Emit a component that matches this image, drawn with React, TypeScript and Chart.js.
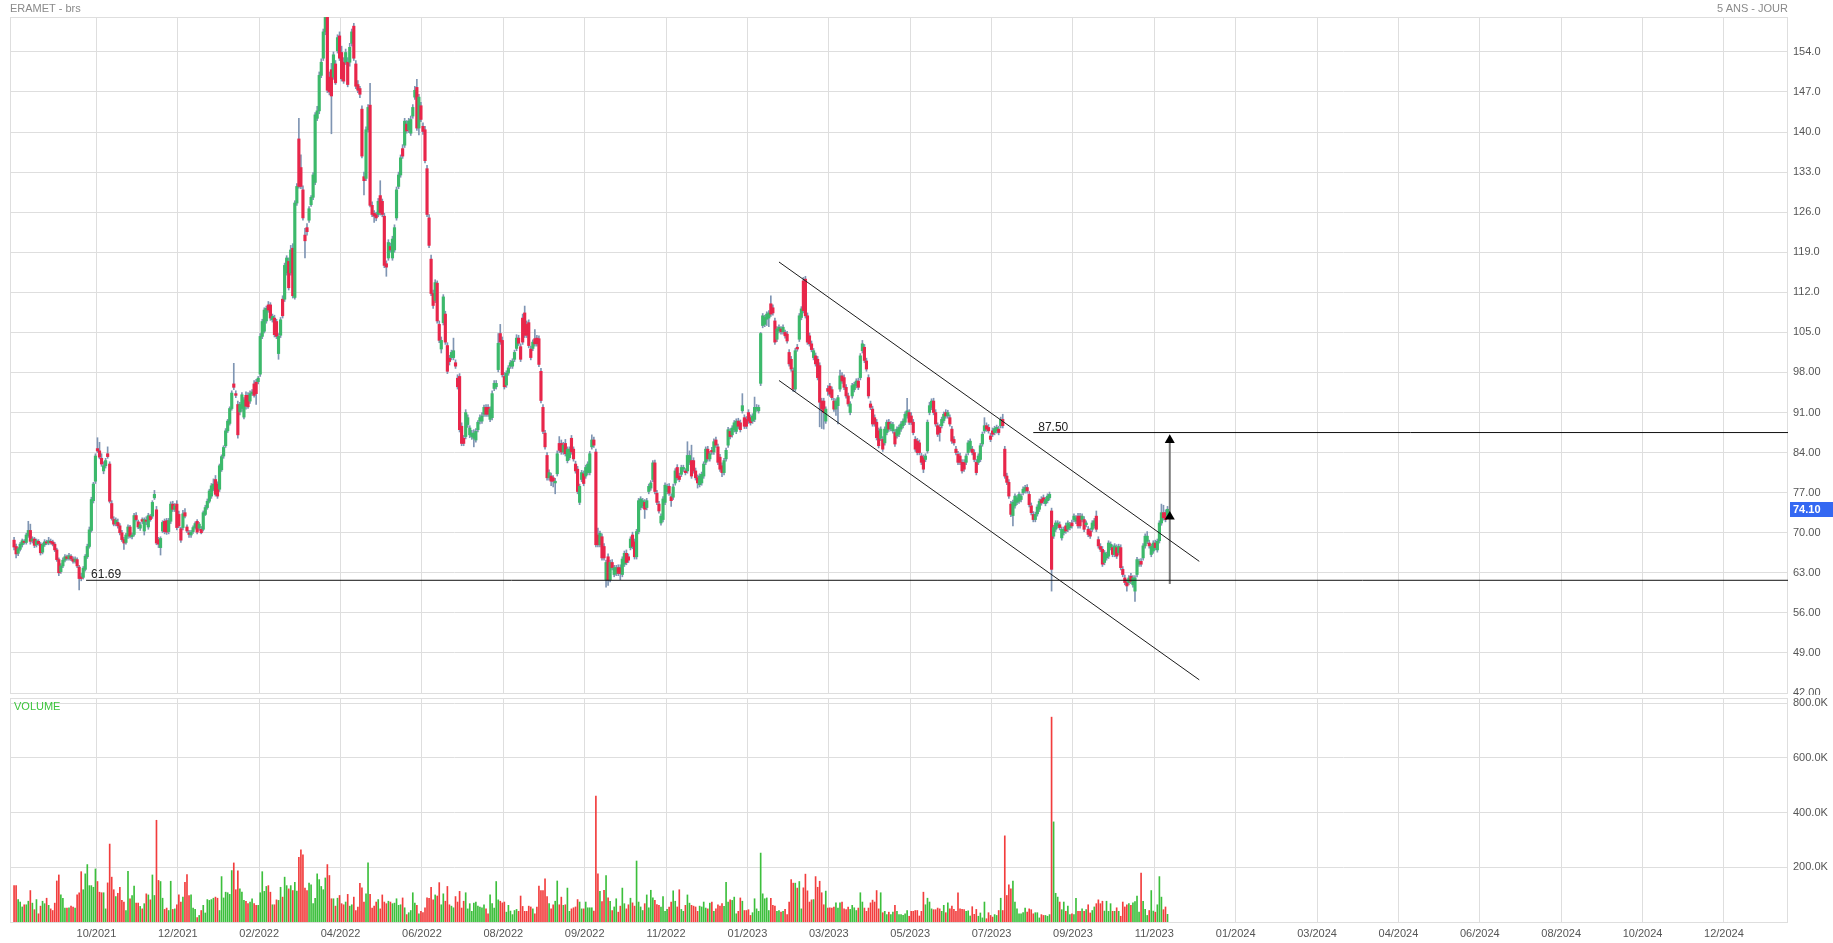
import React, { useEffect, useRef } from 'react';
import { Chart, registerables } from 'chart.js';

Chart.register(...registerables);

// ---------- DATA ----------
// Daily candles [open, high, low, close], one per trading day
const ohlc: number[][] = [
  // 0-40
  [68.7,69.2,67.0,67.5],[67.6,68.0,65.6,66.3],[66.4,67.5,66.0,67.2],[67.1,68.3,66.8,68.0],[67.9,68.9,67.5,68.6],
  [68.5,68.8,68.0,68.3],[68.3,69.9,68.0,69.6],[69.5,72.0,69.2,70.4],[70.4,71.5,68.0,68.5],[68.6,69.3,68.2,68.9],
  [68.9,69.2,67.4,67.8],[67.9,68.9,67.5,68.6],[68.5,68.8,67.8,68.1],[68.0,68.3,66.1,66.5],[66.6,68.2,66.3,67.9],
  [67.9,68.8,67.6,68.4],[68.4,68.7,67.9,68.2],[68.2,69.2,67.9,68.6],[68.5,68.9,68.0,68.3],[68.4,68.7,67.7,68.0],
  [68.0,68.3,66.7,67.0],[67.0,67.3,65.0,65.3],[65.3,65.6,62.5,63.0],[63.2,64.6,62.9,64.2],[64.2,65.6,63.9,65.2],
  [65.2,66.2,64.9,65.8],[65.8,66.1,65.2,65.5],[65.5,66.4,65.2,66.0],[65.9,66.2,65.1,65.4],[65.4,65.8,64.7,65.0],
  [65.0,65.8,64.7,65.4],[65.3,65.6,63.9,64.2],[64.0,64.3,60.0,62.0],[62.3,62.9,61.6,62.0],[62.2,64.1,61.9,63.8],
  [63.6,66.2,63.3,65.9],[65.8,68.0,65.5,67.6],[67.6,71.0,67.3,70.5],[70.4,76.2,70.1,75.8],[75.6,78.8,75.2,78.5],
  [79.0,83.8,78.6,83.4],
  // 41-80
  [84.7,86.6,84.0,84.3],[84.3,85.8,82.9,83.2],[83.0,83.8,81.6,82.0],[80.8,82.4,80.3,81.7],[81.7,83.0,81.3,82.6],
  [83.8,85.0,83.0,83.3],[82.0,82.4,75.2,75.5],[75.1,75.6,72.2,72.5],[72.3,72.8,71.2,71.5],[71.6,72.6,71.2,72.2],
  [71.8,72.4,70.8,71.2],[71.2,71.6,69.6,70.0],[70.0,70.4,68.5,68.8],[68.8,69.2,67.1,68.2],[68.3,69.9,68.0,69.6],
  [69.4,71.4,69.0,71.0],[71.0,71.3,69.1,69.4],[69.3,70.0,68.9,69.6],[69.7,73.4,69.4,73.0],[73.0,73.5,72.0,72.3],
  [71.9,72.2,70.7,71.0],[70.8,71.8,70.4,71.4],[72.3,72.6,71.6,72.0],[70.3,72.6,69.6,72.3],[72.2,72.8,71.4,72.0],
  [71.0,73.4,70.6,73.0],[72.9,73.2,72.0,72.3],[72.9,75.6,72.5,75.3],[76.1,77.4,75.8,76.7],[74.0,74.6,67.9,68.2],
  [68.8,69.2,67.4,68.0],[67.4,69.3,66.1,69.0],[70.3,72.1,70.0,71.8],[72.0,72.4,69.8,70.2],[72.1,72.5,69.7,70.1],
  [70.2,72.5,69.8,72.1],[72.0,75.4,71.6,75.0],[75.0,75.5,73.7,74.1],[74.1,75.1,73.7,74.7],[75.0,75.6,70.5,70.9],
  // 81-120
  [73.2,73.8,70.9,71.2],[70.7,71.0,68.3,68.7],[70.9,73.9,70.5,73.3],[73.5,74.2,72.6,72.9],[71.0,71.4,70.0,70.3],
  [70.0,70.4,69.2,69.7],[69.6,70.4,69.2,70.1],[70.2,71.2,69.9,70.9],[70.9,71.9,70.6,71.6],[72.0,72.3,69.8,70.1],
  [70.8,71.8,70.4,71.5],[70.6,71.1,69.8,70.0],[70.6,73.8,70.3,73.5],[73.2,74.8,73.0,74.4],[74.4,75.9,74.1,75.5],
  [75.5,77.6,75.2,77.3],[76.4,78.6,76.0,78.2],[77.6,79.4,77.3,78.5],[79.3,80.0,76.4,76.7],[78.5,78.9,76.0,76.4],
  [77.6,82.0,77.2,81.7],[81.0,83.6,80.7,83.3],[83.4,85.2,83.0,84.9],[85.2,88.2,84.9,87.8],[87.8,89.8,87.5,89.5],
  [89.1,92.0,88.8,91.7],[91.7,94.8,91.4,94.4],[96.0,99.6,95.0,95.4],[94.3,94.8,93.6,94.0],[92.4,93.0,86.5,87.1],
  [91.1,92.8,90.6,92.4],[91.7,94.5,91.2,94.1],[90.2,93.6,89.9,93.2],[94.0,94.6,91.6,92.1],[94.0,94.5,91.7,92.0],
  [93.0,94.8,92.6,94.3],[94.3,95.0,94.0,94.6],[96.0,96.6,93.7,94.0],[96.3,96.8,92.4,94.3],[96.4,97.3,96.0,97.0],
  // 121-160
  [97.7,104.8,97.3,104.3],[104.3,107.3,103.9,106.9],[105.2,109.3,104.9,108.9],[107.0,109.6,106.6,109.2],[109.8,110.4,108.5,108.9],
  [109.8,110.2,107.1,107.5],[107.2,108.2,106.8,107.8],[107.5,108.0,104.2,104.6],[106.9,107.3,103.9,104.3],[101.3,104.8,100.3,104.3],
  [104.5,107.6,104.1,107.2],[110.8,111.4,107.5,107.9],[110.8,117.1,110.4,116.7],[115.4,118.4,115.0,118.0],[117.4,118.0,112.4,112.8],
  [115.4,120.2,115.0,119.4],[119.7,120.5,111.0,111.4],[111.1,128.0,110.8,127.6],[127.6,131.0,127.2,130.5],[138.8,142.4,130.2,130.5],
  [133.8,136.0,130.1,130.5],[129.9,130.6,124.6,125.0],[122.0,123.2,118.0,121.0],[123.3,124.0,122.0,122.6],[124.6,127.0,124.2,126.6],
  [127.3,128.9,127.0,128.6],[128.6,132.9,128.2,132.5],[131.2,143.4,130.8,143.0],[142.4,144.5,142.0,143.7],[143.7,150.5,143.2,149.9],
  [149.9,152.8,149.5,152.2],[152.9,158.0,152.5,157.5],[157.5,162.0,157.0,160.5],[162.0,163.0,146.9,147.3],[149.6,150.5,146.5,147.0],
  [150.9,152.0,139.7,146.3],[149.6,154.0,149.2,153.5],[151.9,152.5,148.3,148.6],[154.2,157.0,153.8,156.5],[156.8,157.5,152.5,152.9],
  // 161-200
  [153.9,155.0,148.9,149.3],[152.2,153.0,148.5,148.9],[152.2,154.5,151.8,153.9],[152.2,153.0,147.9,148.3],[152.2,155.5,151.5,154.8],
  [155.5,158.0,155.0,157.5],[158.5,159.0,152.5,152.9],[151.9,152.5,147.6,148.0],[148.3,149.0,146.9,147.3],[147.6,148.0,146.0,146.6],
  [144.0,144.6,135.5,135.8],[132.2,133.0,129.0,131.5],[131.9,140.9,131.5,140.4],[140.4,144.8,140.0,144.3],[144.7,148.5,126.9,127.2],
  [127.2,127.8,125.2,125.6],[125.8,126.3,124.2,125.3],[125.6,126.0,124.5,125.0],[125.6,128.4,125.2,127.9],[128.9,131.5,125.5,125.9],
  [127.9,128.3,125.2,125.6],[125.3,125.8,116.3,116.7],[117.0,117.5,114.8,116.4],[118.0,121.2,117.6,120.7],[120.0,120.6,119.0,119.4],
  [118.0,121.8,117.6,121.3],[119.4,123.8,119.0,123.3],[125.0,130.4,124.6,129.9],[130.5,133.0,130.1,132.5],[132.5,136.0,132.1,135.5],
  [137.1,137.8,135.4,135.8],[137.7,142.4,137.3,141.9],[141.4,142.0,139.8,140.2],[140.4,142.4,139.9,141.9],[139.8,142.8,139.4,142.2],
  [142.8,144.8,142.4,144.3],[146.1,148.0,145.7,147.3],[147.8,149.2,140.3,140.7],[140.7,146.6,139.5,146.1],[144.6,145.2,141.8,142.2],
  // 201-240
  [141.0,141.6,139.6,140.1],[140.4,141.0,134.6,135.0],[133.6,134.2,125.2,125.6],[125.0,125.6,119.8,120.2],[117.8,118.5,111.4,111.8],
  [111.8,112.4,109.2,109.7],[110.6,114.2,110.2,113.7],[113.6,114.0,106.6,107.0],[106.4,107.0,103.2,103.6],[102.1,104.2,101.4,103.6],
  [106.7,111.6,106.3,111.2],[108.2,108.7,102.9,103.3],[102.7,103.2,97.8,98.2],[100.5,101.0,99.3,99.9],[100.6,101.9,100.2,101.5],
  [100.6,104.0,100.2,101.8],[99.7,100.2,98.7,99.1],[97.0,97.6,95.1,95.5],[97.3,97.8,87.6,88.0],[88.6,89.2,85.2,85.6],
  [86.5,87.0,85.2,85.6],[86.8,91.5,86.4,91.0],[88.9,90.6,88.4,90.1],[87.1,88.7,86.6,88.3],[86.8,87.9,86.3,87.4],
  [86.5,88.0,85.0,87.4],[86.2,88.2,85.8,87.7],[88.0,89.6,87.6,89.3],[89.5,90.6,89.0,90.1],[89.5,91.0,89.1,90.4],
  [90.7,92.3,90.3,91.9],[91.9,92.4,90.3,90.7],[91.9,92.4,90.3,90.7],[89.8,92.0,89.4,91.6],[90.1,94.8,89.7,94.3],
  [95.2,96.6,94.8,96.1],[95.5,96.6,95.1,96.1],[98.5,104.8,98.1,103.1],[104.8,106.4,102.9,103.3],[103.6,104.2,97.2,97.6],
  // 241-280
  [97.3,98.0,95.1,95.5],[95.8,98.3,95.4,97.9],[97.9,99.2,97.5,98.8],[99.1,100.1,98.7,99.7],[99.1,100.4,98.7,100.0],
  [100.3,101.9,99.9,101.5],[102.2,104.6,101.8,104.0],[104.0,104.5,102.7,103.1],[102.5,103.0,99.9,100.3],[107.5,108.2,102.9,103.3],
  [108.4,109.6,104.1,104.5],[106.4,107.0,104.1,104.5],[106.7,107.2,102.3,102.7],[102.1,102.6,100.2,100.6],[102.2,103.7,101.8,103.3],
  [103.9,105.5,102.6,103.0],[104.0,104.5,102.6,103.0],[103.9,104.4,99.0,99.4],[98.2,98.7,92.7,93.1],[91.9,92.4,87.3,87.7],
  [87.4,87.9,84.6,85.0],[83.5,84.0,79.2,79.6],[79.6,81.0,79.2,80.5],[79.9,80.4,78.2,79.0],[79.6,80.0,78.0,79.0],
  [78.7,79.5,76.8,79.0],[80.3,84.3,79.9,83.8],[85.6,86.8,84.0,84.4],[85.6,86.2,83.7,84.1],[84.1,85.8,83.7,85.3],
  [85.6,86.3,83.4,83.8],[82.6,85.0,82.2,84.6],[83.1,85.0,82.7,84.6],[86.5,87.0,83.7,84.1],[84.6,85.0,82.5,82.9],
  [82.0,82.5,80.4,80.8],[81.1,81.6,76.8,77.2],[75.3,78.5,74.9,78.1],[79.3,80.9,78.9,80.5],[80.3,80.8,78.2,78.6],
  // 281-320
  [79.9,81.8,79.5,81.4],[80.5,82.4,80.1,82.0],[80.5,84.2,80.1,83.8],[85.0,87.1,84.6,86.2],[86.2,86.7,84.9,85.3],
  [84.1,84.6,67.5,67.9],[69.6,70.8,67.5,67.9],[67.9,70.3,67.5,69.9],[69.3,69.8,65.2,65.6],[67.6,68.1,65.2,65.6],
  [61.8,65.2,60.5,64.8],[65.8,66.3,60.8,61.8],[61.8,65.2,61.4,64.8],[64.8,65.3,63.5,63.9],[62.7,64.3,62.3,63.9],
  [62.9,64.3,62.5,63.9],[63.9,64.4,62.5,62.9],[63.9,64.4,61.8,62.9],[62.7,65.8,62.3,65.4],[64.5,66.8,64.1,66.4],
  [66.4,67.0,64.4,64.8],[65.8,66.3,64.8,65.2],[67.4,69.3,67.0,68.9],[69.6,70.1,67.2,67.6],[68.4,68.9,65.4,65.8],
  [65.8,70.6,65.4,70.2],[70.2,76.0,69.8,75.6],[74.4,76.3,74.0,75.9],[74.7,76.0,74.3,75.6],[75.3,75.8,72.5,74.1],
  [74.4,76.0,74.0,75.6],[77.2,78.5,76.8,78.1],[77.8,79.1,77.4,78.7],[79.3,82.6,78.9,82.2],[82.2,82.7,76.8,77.2],
  [76.9,77.4,74.9,75.3],[75.0,75.5,73.4,73.8],[71.7,73.3,71.3,72.9],[72.3,76.3,71.9,75.9],[75.3,78.7,74.9,78.3],
  // 321-360
  [77.2,78.5,76.8,78.1],[78.1,78.6,76.5,76.9],[76.3,76.8,74.6,75.6],[76.2,78.5,75.8,78.0],[78.7,81.2,78.3,80.8],
  [81.4,81.9,79.2,79.6],[79.9,80.4,78.9,79.3],[80.2,81.8,79.8,81.4],[81.1,81.8,80.7,81.4],[80.8,81.2,80.1,80.5],
  [80.8,85.9,80.4,83.5],[82.3,84.3,81.9,83.5],[82.6,85.3,79.5,79.9],[82.6,83.1,80.4,80.8],[80.8,81.3,79.2,79.6],
  [79.6,80.1,77.8,78.7],[78.4,80.3,78.0,79.9],[78.7,80.6,78.3,80.2],[79.9,82.4,79.5,82.0],[82.3,85.0,81.9,84.6],
  [84.6,85.1,82.5,82.9],[82.9,84.2,82.5,83.8],[84.4,84.9,83.7,84.1],[84.1,86.4,83.7,85.9],[86.2,86.7,84.9,85.3],
  [85.0,85.5,81.9,82.3],[83.2,83.7,80.7,81.1],[81.7,82.2,79.8,80.5],[80.5,83.0,80.1,82.6],[82.9,84.8,82.5,84.4],
  [85.3,88.4,84.9,88.0],[87.7,88.2,86.4,86.8],[87.1,88.7,86.7,88.3],[88.0,89.6,87.6,89.2],[87.7,89.9,87.3,89.5],
  [89.5,90.0,88.2,88.6],[89.2,89.7,87.6,88.0],[91.3,94.3,90.9,92.2],[90.1,90.6,88.2,88.6],[89.8,90.3,88.2,88.6],
  // 361-400
  [91.0,91.5,89.1,89.5],[90.1,90.6,88.8,89.2],[89.5,90.8,89.1,90.4],[89.8,93.7,89.4,91.9],[91.6,92.4,91.2,91.9],
  [91.3,92.3,90.9,91.9],[96.1,105.0,95.7,104.8],[106.2,108.3,105.8,107.9],[106.4,108.0,106.0,107.6],[107.3,108.6,106.2,108.2],
  [107.5,108.8,106.0,108.4],[110.0,111.4,107.8,108.2],[109.3,109.8,108.0,108.4],[107.0,107.5,102.9,103.3],[103.8,106.0,103.4,105.6],
  [105.3,106.3,104.9,105.9],[105.6,106.0,104.7,105.1],[105.1,106.3,104.7,105.9],[105.0,105.4,104.0,104.4],[104.7,105.2,103.1,103.5],
  [101.5,102.0,99.1,99.5],[100.3,100.8,98.2,98.6],[98.3,98.8,94.7,95.1],[95.1,102.2,94.7,101.8],[102.4,102.9,101.7,102.1],
  [103.8,108.3,103.4,107.9],[107.6,109.5,107.2,109.1],[114.0,114.6,108.4,108.8],[114.3,114.8,107.5,107.9],[107.9,108.4,102.9,103.3],
  [104.4,104.9,102.6,103.0],[103.0,103.5,101.6,102.0],[100.6,102.2,100.2,101.8],[100.9,101.4,99.1,99.5],[100.3,100.8,96.7,97.1],
  [99.2,99.7,88.5,92.8],[93.0,93.5,88.2,91.6],[93.0,93.5,88.1,91.0],[89.5,92.0,89.1,91.6],[95.2,95.7,94.0,94.7],
  // 401-440
  [95.6,96.1,93.8,94.2],[95.0,95.5,93.2,93.6],[93.0,93.5,91.2,91.6],[91.6,93.4,90.5,93.0],[92.2,94.0,89.0,93.6],
  [95.1,98.4,94.7,97.4],[97.4,98.0,96.1,96.5],[97.1,97.6,95.0,95.4],[95.4,95.9,93.5,93.9],[93.9,94.4,92.1,92.5],
  [91.0,92.9,90.6,92.5],[93.9,96.1,93.5,95.7],[95.0,96.3,94.6,95.9],[95.7,96.9,95.3,96.5],[96.5,97.0,95.0,95.4],
  [97.1,101.3,96.7,100.9],[101.8,103.6,101.4,103.0],[102.4,102.9,99.7,100.1],[100.0,100.5,98.2,98.6],[97.1,97.6,93.5,93.9],
  [92.5,93.0,91.5,91.9],[91.6,92.1,88.6,89.0],[90.1,90.6,88.6,89.0],[89.3,89.8,86.2,86.6],[87.8,88.3,84.8,85.2],
  [86.5,88.5,86.1,88.1],[86.3,86.8,84.2,84.6],[85.7,88.5,85.3,88.1],[87.5,89.7,87.1,89.3],[89.3,89.8,87.7,88.1],
  [88.2,89.4,87.8,89.0],[87.8,89.3,87.4,88.9],[87.5,88.0,85.1,85.5],[86.9,88.5,86.5,88.1],[87.2,88.8,86.8,88.4],
  [88.1,89.4,87.7,89.0],[88.7,89.9,88.3,89.5],[89.3,91.1,88.9,90.7],[90.4,93.5,90.0,91.3],[91.0,91.5,88.9,89.3],
  // 441-480
  [90.4,91.0,88.9,89.3],[89.3,89.8,87.1,87.5],[86.3,86.8,84.2,84.6],[86.0,86.5,83.6,84.0],[85.7,86.2,83.6,84.0],
  [83.4,83.9,81.9,82.3],[83.1,83.6,80.5,81.1],[82.8,83.8,82.4,83.4],[84.3,89.7,83.9,89.3],[91.0,92.8,90.6,92.2],
  [91.9,93.4,91.5,93.0],[93.0,93.5,90.6,91.0],[91.0,91.5,88.6,89.0],[88.7,89.2,86.8,87.2],[88.4,88.9,86.0,87.5],
  [88.7,90.2,88.3,89.8],[89.6,91.1,89.2,90.7],[91.0,91.5,90.0,90.4],[90.4,91.4,90.0,91.0],[90.1,90.6,88.6,89.0],
  [88.1,88.6,85.6,86.0],[86.3,86.8,85.3,85.7],[84.6,85.1,83.6,84.0],[83.7,84.2,81.9,82.3],[83.4,83.9,81.9,82.3],
  [82.3,82.8,80.4,80.8],[82.3,82.8,80.7,81.1],[82.3,83.8,81.9,83.4],[84.0,86.1,83.6,85.7],[84.6,86.4,84.2,86.0],
  [84.6,85.1,83.6,84.0],[84.0,84.5,82.4,82.8],[82.3,82.8,80.1,80.5],[82.3,83.8,81.9,83.4],[82.8,85.6,82.4,85.2],
  [85.5,87.6,85.1,87.2],[87.8,90.1,87.4,88.7],[88.7,89.2,87.7,88.1],[88.4,88.9,87.4,87.8],[86.9,87.4,85.9,86.3],
  // 481-520
  [87.8,88.3,86.8,87.2],[87.5,88.6,87.1,88.2],[87.8,88.8,87.4,88.4],[88.1,88.6,87.1,87.5],[88.7,90.2,88.3,89.8],
  [89.8,90.7,88.3,88.7],[84.6,85.1,79.5,79.9],[79.9,80.4,78.4,78.8],[78.8,79.3,76.0,76.4],[75.0,75.5,72.8,73.2],
  [73.0,75.7,71.2,75.3],[74.7,76.8,74.3,76.4],[75.3,76.5,74.9,76.1],[75.5,77.1,75.1,76.7],[75.8,76.8,75.4,76.4],
  [77.0,78.0,76.6,77.6],[77.3,78.3,76.9,77.9],[77.9,78.4,76.9,77.3],[76.7,77.2,74.5,74.9],[74.7,75.2,73.1,73.5],
  [73.2,73.7,71.9,72.3],[72.3,73.6,71.9,73.2],[73.3,74.9,72.9,74.5],[74.1,75.9,73.7,75.5],[75.8,76.3,74.8,75.2],
  [76.1,76.6,75.1,75.5],[75.1,76.2,74.7,75.8],[75.6,76.8,75.2,76.4],[76.1,77.1,75.7,76.7],[73.8,74.3,59.8,63.6],
  [69.4,71.3,69.0,70.9],[70.6,72.1,70.2,71.7],[71.2,72.1,70.8,71.7],[71.4,71.9,70.5,70.9],[69.1,71.0,68.7,70.6],
  [70.0,71.0,69.6,70.6],[71.2,71.7,69.9,70.3],[70.6,72.1,70.2,71.7],[70.9,71.8,70.5,71.4],[71.7,72.2,70.8,71.2],
  // 521-560
  [72.3,73.3,71.9,72.9],[72.0,73.0,71.6,72.6],[72.9,73.4,70.8,71.2],[72.9,73.4,70.8,71.2],[72.3,73.3,71.9,72.9],
  [72.3,72.8,70.2,70.6],[71.4,72.1,71.0,71.7],[70.6,71.1,69.3,69.7],[70.3,70.8,69.0,69.4],[70.6,72.1,70.2,71.7],
  [71.2,72.5,70.8,72.1],[72.9,73.8,70.2,70.6],[68.8,69.3,67.3,67.7],[67.6,68.1,66.7,67.1],[67.1,67.6,64.1,64.5],
  [64.8,66.9,64.4,66.5],[65.6,66.6,65.2,66.2],[65.9,68.6,65.5,68.2],[67.4,68.4,67.0,68.0],[67.4,67.9,65.8,66.2],
  [66.2,68.1,65.8,67.7],[67.4,67.9,65.5,65.9],[66.5,68.0,66.1,67.6],[67.4,67.9,63.5,63.9],[63.6,64.1,62.3,62.7],
  [62.1,62.6,60.9,61.3],[61.3,61.8,59.8,60.7],[61.3,62.5,60.9,62.1],[62.4,62.9,61.1,61.5],[60.9,62.5,60.5,62.1],
  [59.8,62.5,58.0,62.1],[62.7,65.7,62.3,65.3],[64.5,65.4,64.1,65.0],[65.0,65.5,64.1,64.5],[65.6,68.1,65.2,67.7],
  [67.7,69.8,67.3,69.4],[68.5,70.2,68.1,69.4],[68.2,68.7,67.3,67.7],[66.2,68.0,65.8,67.6],[66.8,68.6,66.4,68.2],
  // 561-567
  [68.2,68.7,67.0,67.4],[67.0,68.9,66.6,68.5],[68.6,72.1,68.2,71.7],[71.7,75.0,71.3,73.5],[73.5,74.8,72.2,72.6],
  [73.5,74.0,71.9,72.3],[72.9,74.6,72.5,74.1],
];

// Daily volume, in thousands of shares (one per candle)
const volumesK: number[] = [
  133,133,82,73,55,63,63,76,115,69, 45,82,30,58,76,67,87,61,48,42,
  69,150,172,99,87,51,51,52,58,55, 51,99,107,184,118,176,210,133,133,127,
  194,148,109,107,107,48,143,285,164,118, 93,105,127,79,73,42,185,85,97,131,
  69,69,57,48,67,103,99,81,172,97, 372,152,148,87,46,51,42,149,46,48,
  63,99,73,91,145,173,97,99,51,46, 16,24,42,61,33,82,79,82,87,91,
  87,42,166,88,109,107,101,188,216,118, 187,121,109,79,76,67,73,85,67,61,
  61,107,184,112,130,133,109,63,63,81, 79,127,91,164,133,121,133,115,145,113,
  236,264,246,124,115,142,136,67,87,176, 155,130,118,161,210,170,85,85,58,87,
  97,67,63,73,101,58,63,91,42,55, 141,125,73,103,216,101,51,58,73,82,
  48,99,73,67,76,73,67,69,85,61, 63,88,52,27,34,42,107,69,61,30,
  39,34,52,88,87,127,81,99,95,144, 63,103,76,130,63,58,52,93,73,112,
  51,76,107,48,67,39,69,73,58,55, 52,63,48,30,99,67,51,148,81,76,
  70,73,36,61,40,27,42,46,39,95, 57,39,39,58,55,48,30,55,131,115,
  115,158,93,67,48,63,76,150,63,91, 61,63,124,39,48,52,55,82,73,48,
  48,73,52,52,52,40,460,176,112,75, 116,170,88,76,
  42,55,85,36,58,124,67,48,63,87, 70,58,223,73,55,42,67,99,52,116,
  88,79,64,61,55,93,39,46,55,73, 114,76,55,118,46,39,61,99,69,61,
  58,55,39,58,55,73,51,48,69,73, 39,48,63,58,67,57,145,73,81,79,
  91,30,39,88,76,42,42,45,24,34, 85,48,39,252,103,85,88,42,87,61,
  58,39,42,36,39,46,27,73,155,142, 142,124,148,48,125,175,114,73,81,82,
  166,127,149,107,63,113,51,52,51,55, 70,51,70,73,48,45,55,46,61,52,
  42,51,107,73,51,39,51,70,80,73, 115,48,107,34,39,27,36,27,36,61,
  39,27,27,24,30,42,21,39,39,42, 42,22,39,109,63,87,73,48,45,45,
  51,48,39,61,34,70,48,58,46,39, 107,48,46,45,39,41,22,56,28,46,
  21,33,15,73,12,34,24,18,27,24, 42,87,42,315,97,136,121,150,73,48,
  30,30,34,51,36,48,45,30,34,34, 15,27,24,24,21,27,749,366,105,91,
  73,45,73,39,58,27,30,27,87,39, 39,48,39,45,63,33,42,55,67,81,
  67,76,40,76,39,67,39,39,52,39, 21,73,55,63,67,61,70,75,95,36,
  179,76,46,24,42,115,40,36,63,166, 91,45,55,28,
];

// Time-axis labels (one every 40 trading days)
const xTickLabels = [
  '10/2021','12/2021','02/2022','04/2022','06/2022','08/2022','09/2022','11/2022',
  '01/2023','03/2023','05/2023','07/2023','09/2023','11/2023','01/2024','03/2024',
  '04/2024','06/2024','08/2024','10/2024','12/2024',
];
const priceTicks = [154, 147, 140, 133, 126, 119, 112, 105, 98, 91, 84, 77, 70, 63, 56, 49, 42];
const volumeTicksK = [800, 600, 400, 200];

// Drawn annotations (price levels, trend channel, target arrow)
const supportLevel = 61.69;
const supportFrom = 35.4;
const targetLevel = 87.5;
const targetFrom = 501;
const channelUpper = [{ x: 376, y: 117.3 }, { x: 582.6, y: 65.0 }];
const channelLower = [{ x: 376, y: 96.6 }, { x: 582.6, y: 44.3 }];
const arrowX = 568.1;
const arrowFrom = 61.05;
const arrowHeads = [86.2, 72.8];

// ---------- LAYOUT / STYLE ----------
const FONT = '"Liberation Sans", Arial, sans-serif';
const W = 1833;
const PRICE_H = 695;
const VOL_TOP = 695;
const VOL_H = 248;
const X_MIN = -2;
const X_MAX = 872;
const GRID = '#dedede';
const UP = '#3cb96b';
const DOWN = '#e8264a';
const WICK = '#7f95b3';
const VUP = '#3cbf3c';
const VDOWN = '#f23d3d';
const xTickPos = xTickLabels.map((_, k) => 40.5 + 40 * k);

const framePlugin = {
  id: 'frame',
  beforeDatasetsDraw(chart: any) {
    const { ctx, chartArea: a } = chart;
    ctx.save();
    ctx.strokeStyle = GRID;
    ctx.lineWidth = 1;
    ctx.strokeRect(Math.round(a.left) + 0.5, Math.round(a.top) + 0.5,
      Math.round(a.right - a.left) - 1, Math.round(a.bottom - a.top));
    ctx.restore();
  },
};

const priceLabelsPlugin = {
  id: 'priceLabels',
  afterDatasetsDraw(chart: any) {
    const { ctx } = chart;
    const xs = chart.scales.x;
    const ys = chart.scales.y;
    ctx.save();
    ctx.font = `12px ${FONT}`;
    ctx.fillStyle = '#222';
    ctx.textAlign = 'left';
    ctx.textBaseline = 'alphabetic';
    ctx.fillText(supportLevel.toFixed(2), xs.getPixelForValue(supportFrom) + 5, ys.getPixelForValue(supportLevel) - 2);
    ctx.fillText(targetLevel.toFixed(2), xs.getPixelForValue(targetFrom) + 5, ys.getPixelForValue(targetLevel) - 2);
    ctx.restore();
  },
  afterDraw(chart: any) {
    const { ctx, chartArea: a } = chart;
    const ys = chart.scales.y;
    const last = ohlc[ohlc.length - 1][3];
    const y = Math.round(ys.getPixelForValue(last));
    ctx.save();
    ctx.fillStyle = '#3468f2';
    ctx.fillRect(a.right + 2, y - 7, W - a.right - 2, 15);
    ctx.fillStyle = '#ffffff';
    ctx.font = `bold 11px ${FONT}`;
    ctx.textAlign = 'left';
    ctx.textBaseline = 'middle';
    ctx.fillText(last.toFixed(2), a.right + 5, y + 0.5);
    ctx.restore();
  },
};

const lineDs = (data: any[], color: string, width: number) => ({
  type: 'line',
  data,
  borderColor: color,
  borderWidth: width,
  pointRadius: 0,
  fill: false,
  order: 1,
});

export default function App() {
  const priceRef = useRef<HTMLCanvasElement | null>(null);
  const volRef = useRef<HTMLCanvasElement | null>(null);

  useEffect(() => {
    const bodyColors = ohlc.map((c) => (c[3] >= c[0] ? UP : DOWN));
    const volColors = volumesK.map((_, i) => (ohlc[i] && ohlc[i][3] >= ohlc[i][0] ? VUP : VDOWN));

    const priceChart = new Chart(priceRef.current as HTMLCanvasElement, {
      type: 'bar',
      data: {
        datasets: [
          {
            type: 'bar',
            data: ohlc.map((c, i) => ({ x: i, y: [c[2], c[1]] })),
            backgroundColor: WICK,
            barThickness: 1,
            grouped: false,
            order: 3,
          } as any,
          {
            type: 'bar',
            data: ohlc.map((c, i) => ({ x: i, y: [c[0], c[3]] })),
            backgroundColor: bodyColors,
            barThickness: 2.5,
            minBarLength: 1,
            grouped: false,
            order: 2,
          } as any,
          lineDs(channelUpper, '#1a1a1a', 1) as any,
          lineDs(channelLower, '#1a1a1a', 1) as any,
          lineDs([{ x: supportFrom, y: supportLevel }, { x: X_MAX, y: supportLevel }], '#111', 1) as any,
          lineDs([{ x: targetFrom, y: targetLevel }, { x: X_MAX, y: targetLevel }], '#111', 1) as any,
          lineDs([{ x: arrowX, y: arrowFrom }, { x: arrowX, y: arrowHeads[0] }], '#7a7a7a', 2) as any,
          {
            type: 'line',
            data: arrowHeads.map((y) => ({ x: arrowX, y })),
            showLine: false,
            pointStyle: 'triangle',
            pointRadius: 5.8,
            pointBackgroundColor: '#000',
            pointBorderColor: '#000',
            pointBorderWidth: 0,
            order: 0,
          } as any,
        ],
      },
      options: {
        animation: false,
        responsive: false,
        maintainAspectRatio: false,
        events: [],
        layout: { autoPadding: false, padding: { left: 10, top: 17, right: 0, bottom: 2 } },
        plugins: { legend: { display: false }, tooltip: { enabled: false } },
        scales: {
          x: {
            type: 'linear',
            min: X_MIN,
            max: X_MAX,
            offset: false,
            afterBuildTicks: (s: any) => { s.ticks = xTickPos.map((v) => ({ value: v })); },
            ticks: { display: false },
            grid: { color: GRID, drawTicks: false, offset: false },
            border: { display: false },
            afterFit: (s: any) => { s.height = 0; s.paddingLeft = 0; s.paddingRight = 0; },
          },
          y: {
            type: 'linear',
            position: 'right',
            min: 42,
            max: 160.1,
            afterBuildTicks: (s: any) => { s.ticks = priceTicks.map((v) => ({ value: v })); },
            ticks: {
              callback: (v: any) => Number(v).toPrecision(4),
              color: '#555',
              font: { family: FONT, size: 11 },
              padding: 5,
            },
            grid: { color: GRID, drawTicks: false },
            border: { display: false },
            afterFit: (s: any) => { s.width = 45; s.paddingTop = 0; s.paddingBottom = 0; },
          },
        },
      } as any,
      plugins: [framePlugin, priceLabelsPlugin],
    });

    const volChart = new Chart(volRef.current as HTMLCanvasElement, {
      type: 'bar',
      data: {
        datasets: [
          {
            data: volumesK.map((v, i) => ({ x: i, y: v })),
            backgroundColor: volColors,
            barThickness: 1,
            grouped: false,
          } as any,
        ],
      },
      options: {
        animation: false,
        responsive: false,
        maintainAspectRatio: false,
        events: [],
        layout: { autoPadding: false, padding: { left: 10, top: 3, right: 0, bottom: 0 } },
        plugins: { legend: { display: false }, tooltip: { enabled: false } },
        scales: {
          x: {
            type: 'linear',
            min: X_MIN,
            max: X_MAX,
            offset: false,
            afterBuildTicks: (s: any) => { s.ticks = xTickPos.map((v) => ({ value: v })); },
            ticks: {
              callback: (_v: any, i: number) => xTickLabels[i],
              color: '#555',
              font: { family: FONT, size: 11 },
              padding: 5,
              maxRotation: 0,
              autoSkip: false,
            },
            grid: { color: GRID, drawTicks: false, offset: false },
            border: { display: false },
            afterFit: (s: any) => { s.height = 21; s.paddingLeft = 0; s.paddingRight = 0; },
          },
          y: {
            type: 'linear',
            position: 'right',
            min: 0,
            max: 819,
            afterBuildTicks: (s: any) => { s.ticks = volumeTicksK.map((v) => ({ value: v })); },
            ticks: {
              callback: (v: any) => Number(v).toFixed(1) + 'K',
              color: '#555',
              font: { family: FONT, size: 11 },
              padding: 5,
            },
            grid: { color: GRID, drawTicks: false },
            border: { display: false },
            afterFit: (s: any) => { s.width = 45; s.paddingTop = 0; s.paddingBottom = 0; },
          },
        },
      } as any,
      plugins: [framePlugin],
    });

    return () => {
      priceChart.destroy();
      volChart.destroy();
    };
  }, []);

  const textStyle: React.CSSProperties = {
    position: 'absolute',
    fontFamily: FONT,
    fontSize: 11,
    lineHeight: '13px',
    whiteSpace: 'nowrap',
  };

  return (
    <div style={{ position: 'fixed', left: 0, top: 0, width: W, height: 943, background: '#fff', overflow: 'hidden' }}>
      <canvas ref={priceRef} width={W} height={PRICE_H}
        style={{ position: 'absolute', left: 0, top: 0, width: W, height: PRICE_H }} />
      <canvas ref={volRef} width={W} height={VOL_H}
        style={{ position: 'absolute', left: 0, top: VOL_TOP, width: W, height: VOL_H }} />
      <div style={{ ...textStyle, left: 10, top: 2, color: '#8a8a8a' }}>ERAMET - brs</div>
      <div style={{ ...textStyle, right: W - 1788, top: 2, color: '#8a8a8a' }}>5 ANS - JOUR</div>
      <div style={{ ...textStyle, left: 14, top: 700, color: '#3cc43c' }}>VOLUME</div>
    </div>
  );
}
